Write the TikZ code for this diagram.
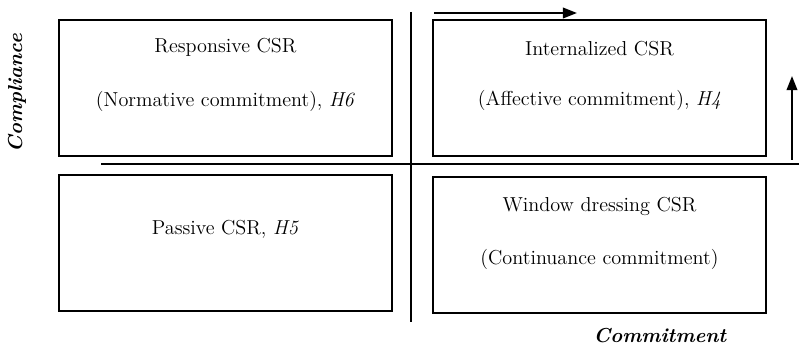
\documentclass[tikz,border=0pt]{standalone}
\usepackage{amsmath}
\usetikzlibrary{arrows.meta,positioning}

\tikzset{
    quad/.style={draw,line width=0.8pt,minimum width=6.66cm,minimum height=2.72cm,inner sep=0pt},
    lbl/.style={font=\fontsize{11.5}{14}\selectfont,inner sep=1pt},
    axis/.style={line width=1.1pt},
    axislbl/.style={font=\fontsize{11.5}{14}\selectfont\bfseries\itshape}
}

\begin{document}
\begin{tikzpicture}
        \useasboundingbox (0,0) rectangle (15.98,6.9);

        \coordinate (A) at (2.02,3.62);
        \coordinate (B) at (15.98,3.62);
        \coordinate (C) at (8.22,6.66);
        \coordinate (D) at (8.22,0.46);
        \coordinate (E) at (8.68,6.64);
        \coordinate (F) at (11.54,6.64);
        \coordinate (G) at (15.84,3.70);
        \coordinate (H) at (15.84,5.38);

        % the four quadrants
        \node[quad] (R) at (4.51,5.14) {};
        \node[quad] (I) at (11.99,5.14) {};
        \node[quad] (P) at (4.51,2.04) {};
        \node[quad] (W) at (11.99,2.00) {};

        \node[lbl] (R1) at ([yshift=-0.56cm]R.north) {Responsive CSR};
        \node[lbl] (R2) at ([yshift=-1.64cm]R.north) {(Normative commitment), \textit{H6}};
        \node[lbl] (I1) at ([yshift=-0.58cm]I.north) {Internalized CSR};
        \node[lbl] (I2) at ([yshift=-1.62cm]I.north) {(Affective commitment), \textit{H4}};
        \node[lbl] (P1) at ([yshift=-1.10cm]P.north) {Passive CSR, \textit{H5}};
        \node[lbl] (W1) at ([yshift=-0.60cm]W.north) {Window dressing CSR};
        \node[lbl] (W2) at ([yshift=-1.66cm]W.north) {(Continuance commitment)};

        % axes and directions
        \draw[axis] (A) -- (B);
        \draw[axis] (C) -- (D);
        \draw[axis,-{Triangle[length=8pt,width=6pt]}] (E) -- (F);
        \draw[axis,-{Triangle[length=8pt,width=6pt]}] (G) -- (H);

        \node[axislbl,rotate=90] (Y) at (0.34,5.04) {Compliance};
        \node[axislbl] (X) at (13.2,0.18) {Commitment};
    \end{tikzpicture}
\end{document}
